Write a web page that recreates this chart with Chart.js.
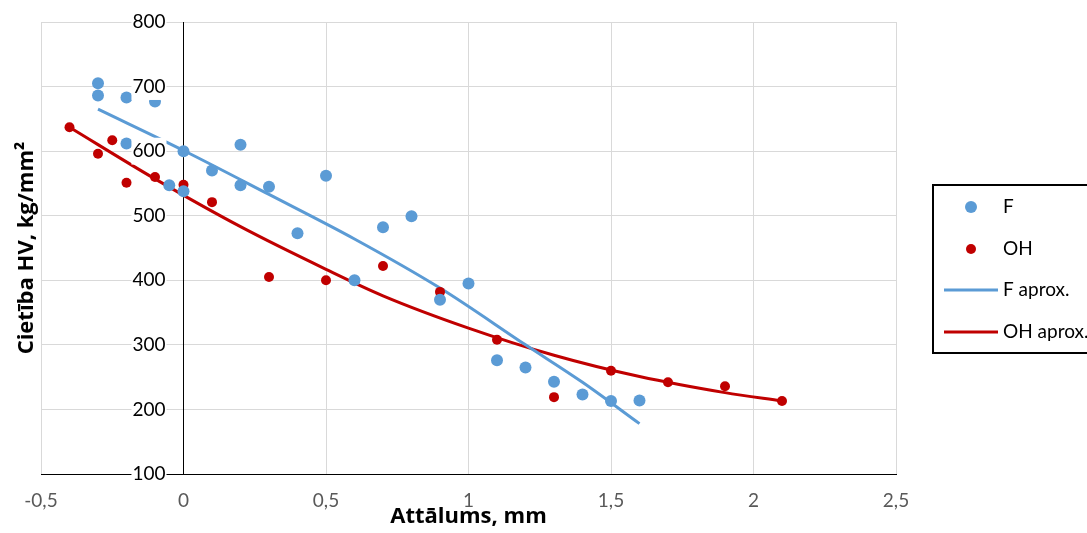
<!DOCTYPE html>
<html>
<head>
<meta charset="utf-8">
<script src="https://cdn.jsdelivr.net/npm/chart.js@4/dist/chart.umd.min.js"></script>
<style>
  html, body { margin: 0; padding: 0; background: #fff; }
  canvas { display: block; }
</style>
</head>
<body>
<canvas id="chart" width="1087" height="533"></canvas>
<script>
// --- datos ---
const fX  = [-0.3, -0.3, -0.2, -0.1, -0.2, 0, -0.05, 0, 0.1, 0.2, 0.2, 0.3, 0.5, 0.4, 0.6, 0.7, 0.8, 0.9, 1.0, 1.1, 1.2, 1.3, 1.4, 1.5, 1.6];
const fY  = [705, 686, 683, 677, 612, 600, 547, 538, 570, 610, 547, 545, 562, 473, 400, 482, 499, 370, 395, 276, 265, 243, 223, 213, 214];

const ohX = [-0.4, -0.3, -0.25, -0.2, -0.1, 0, 0.1, 0.3, 0.5, 0.7, 0.9, 1.1, 1.3, 1.5, 1.7, 1.9, 2.1];
const ohY = [637, 596, 617, 551, 560, 548, 521, 405, 400, 422, 382, 308, 219, 260, 242, 236, 213];

// curvas de aproximación (leídas a lo largo de la línea)
const fFitX  = [-0.3, 0, 0.3, 0.6, 0.9, 1.2, 1.4, 1.6];
const fFitY  = [665, 601, 533, 464, 388, 300, 242, 178];
const ohFitX = [-0.4, -0.1, 0.2, 0.5, 0.7, 1.0, 1.3, 1.6, 1.9, 2.1];
const ohFitY = [637, 557, 483, 417, 376, 326, 284, 251, 226, 213];

const xTicks = [-0.5, 0, 0.5, 1, 1.5, 2, 2.5];
const yTicks = [100, 200, 300, 400, 500, 600, 700, 800];

const BLUE = '#5B9BD5';
const RED = '#C00000';
const FONT = 'Lato, "Open Sans", sans-serif';
const TITLE_FONT = '"Open Sans", Lato, sans-serif';
const Y_LABEL_GAP = 18; // separación entre etiquetas y el eje en x = 0

const zip = (xs, ys) => xs.map((x, i) => ({ x: x, y: ys[i] }));

// el eje y cruza en x = 0: Chart.js no aplica ticks.padding ahí, lo movemos a mano
const shiftYLabels = {
    id: 'shiftYLabels',
    afterLayout(chart) {
        const items = chart.scales.y.getLabelItems();
        items.forEach(item => { item.options.translation[0] -= Y_LABEL_GAP; });
    }
};

// leyenda propia con recuadro a la derecha
const boxLegend = {
    id: 'boxLegend',
    afterDraw(chart) {
        const ctx = chart.ctx;
        ctx.save();
        ctx.strokeStyle = '#000';
        ctx.lineWidth = 2;
        ctx.strokeRect(933, 185, 200, 168);

        const rows = [207, 249, 290, 332];
        ctx.font = '19px ' + FONT;
        ctx.textBaseline = 'middle';
        ctx.textAlign = 'left';
        chart.data.datasets.forEach((ds, i) => {
            const y = rows[i];
            if (ds.showLine) {
                ctx.strokeStyle = ds.borderColor;
                ctx.lineWidth = 3;
                ctx.beginPath();
                ctx.moveTo(944, y);
                ctx.lineTo(998, y);
                ctx.stroke();
            } else {
                ctx.fillStyle = ds.backgroundColor;
                ctx.beginPath();
                ctx.arc(971, y, ds.pointRadius, 0, Math.PI * 2);
                ctx.fill();
            }
            ctx.fillStyle = '#000';
            ctx.fillText(ds.label, 1003, y);
        });
        ctx.restore();
    }
};

new Chart(document.getElementById('chart'), {
    type: 'scatter',
    data: {
        datasets: [
            {
                label: 'F',
                data: zip(fX, fY),
                backgroundColor: BLUE,
                borderColor: BLUE,
                pointRadius: 6,
                pointBorderWidth: 0,
                showLine: false
            },
            {
                label: 'OH',
                data: zip(ohX, ohY),
                backgroundColor: RED,
                borderColor: RED,
                pointRadius: 5,
                pointBorderWidth: 0,
                showLine: false
            },
            {
                label: 'F aprox.',
                data: zip(fFitX, fFitY),
                borderColor: BLUE,
                backgroundColor: BLUE,
                borderWidth: 3,
                pointRadius: 0,
                showLine: true,
                cubicInterpolationMode: 'monotone'
            },
            {
                label: 'OH aprox.',
                data: zip(ohFitX, ohFitY),
                borderColor: RED,
                backgroundColor: RED,
                borderWidth: 3,
                pointRadius: 0,
                showLine: true,
                cubicInterpolationMode: 'monotone'
            }
        ]
    },
    options: {
        responsive: false,
        animation: false,
        events: [],
        layout: { padding: { top: 22, right: 191, left: 0, bottom: 0 } },
        plugins: {
            legend: { display: false },
            tooltip: { enabled: false }
        },
        scales: {
            x: {
                type: 'linear',
                position: 'bottom',
                min: xTicks[0],
                max: xTicks[xTicks.length - 1],
                afterBuildTicks: (scale) => { scale.ticks = xTicks.map(v => ({ value: v })); },
                afterFit: (scale) => {
                    scale.height = 59;
                    scale.paddingLeft = 0;
                    scale.paddingRight = 0;
                },
                grid: { color: '#D9D9D9', lineWidth: 1, drawTicks: false },
                border: { color: '#000', width: 1 },
                ticks: {
                    color: '#595959',
                    font: { family: FONT, size: 19 },
                    padding: 15,
                    callback: (v) => String(v).replace('.', ',')
                },
                title: {
                    display: true,
                    text: 'Attālums, mm',
                    color: '#000',
                    font: { family: TITLE_FONT, size: 22, weight: 'bold' },
                    padding: { top: 0, bottom: 3 }
                }
            },
            y: {
                type: 'linear',
                position: { x: 0 },
                min: yTicks[0],
                max: yTicks[yTicks.length - 1],
                afterBuildTicks: (scale) => { scale.ticks = yTicks.map(v => ({ value: v })); },
                afterFit: (scale) => {
                    scale.paddingTop = 0;
                    scale.paddingBottom = 0;
                },
                grid: { color: '#D9D9D9', lineWidth: 1, drawTicks: false },
                border: { color: '#000', width: 1 },
                ticks: {
                    color: '#000',
                    font: { family: FONT, size: 19 },
                    padding: 0,
                    z: 1,
                    showLabelBackdrop: true,
                    backdropColor: '#fff',
                    backdropPadding: { x: 1, y: 2 }
                }
            },
            yTitle: {
                type: 'linear',
                axis: 'y',
                position: 'left',
                min: yTicks[0],
                max: yTicks[yTicks.length - 1],
                afterFit: (scale) => {
                    scale.width = 41;
                    scale.paddingTop = 0;
                    scale.paddingBottom = 0;
                },
                grid: { display: false },
                border: { display: false },
                ticks: { display: false },
                title: {
                    display: true,
                    text: 'Cietība HV, kg/mm²',
                    color: '#000',
                    font: { family: TITLE_FONT, size: 22, weight: 'bold' },
                    padding: { top: 14, bottom: 0 }
                }
            }
        }
    },
    plugins: [shiftYLabels, boxLegend]
});
</script>
</body>
</html>
